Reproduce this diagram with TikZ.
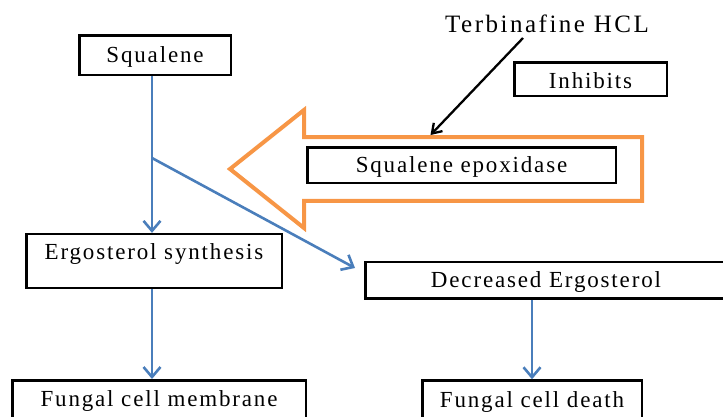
\documentclass[tikz,border=0pt]{standalone}
\usepackage{fontspec}
\setmainfont{Liberation Serif}[LetterSpace=8]
\usepackage{xcolor}
\usepackage{tikz}
\usetikzlibrary{arrows.meta}

\definecolor{flowblue}{HTML}{4A7EBB}
\definecolor{blockorange}{HTML}{F79646}

\begin{document}
\begin{tikzpicture}[
    x=1pt, y=-1pt,
    pathbox/.style={rectangle, draw=black, line width=2.5pt, inner sep=0pt, font=\fontsize{23}{27}\selectfont, text height=18pt, text depth=3pt},
    flow/.style={-{Straight Barb[length=10pt,width=17pt]}, draw=flowblue, line width=2.6pt},
    drug/.style={-{Straight Barb[length=9pt,width=12pt]}, draw=black, line width=2.3pt}
]
\clip (0,0) rectangle (723,416);

% inhibition block arrow
\draw[blockorange, line width=4pt, line join=miter] (230,169) -- (304,110) -- (304,137) -- (642,137) -- (642,200.8) -- (304,200.8) -- (304,228) -- cycle;

\node[pathbox, minimum width=151.5pt, minimum height=39.5pt] (squalene) at (155,55) {Squalene};
\node[pathbox, minimum width=152.5pt, minimum height=33.5pt, text height=20pt, text depth=1.5pt] (inhibits) at (590.5,79) {Inhibits};
\node[pathbox, minimum width=308.5pt, minimum height=35.5pt] (epoxidase) at (461.5,165) {Squalene epoxidase};
\node[pathbox, minimum width=255.5pt, minimum height=53.8pt, text depth=21.4pt] (ergosynth) at (154,261) {Ergosterol synthesis};
\node[pathbox, minimum width=361.5pt, minimum height=36.8pt] (decreased) at (546,280.3) {Decreased Ergosterol};
\node[pathbox, minimum width=293.5pt, minimum height=59.5pt, text depth=26pt] (membrane) at (159,410) {Fungal cell membrane};
\node[pathbox, minimum width=219.5pt, minimum height=60pt, text depth=25pt] (death) at (532,410.5) {Fungal cell death};

\node[inner sep=0pt, font=\fontsize{25}{30}\selectfont\addfontfeature{LetterSpace=10}, text height=18pt, text depth=3pt] (terbinafine) at (547,24.5) {Terbinafine HCL};

\coordinate (split) at (152,158);
\coordinate (branchend) at (355,268);
\coordinate (hclfoot) at (523,38);
\coordinate (enzymetop) at (430.5,135);

\draw[flow] (squalene.south -| split) -- (ergosynth.north -| split);
\draw[flow] (split) -- (branchend);
\draw[flow] (ergosynth.south -| split) -- (membrane.north -| split);
\draw[flow] (decreased.south -| death.north) -- (death.north);
\draw[drug] (hclfoot) -- (enzymetop);

\end{tikzpicture}
\end{document}
